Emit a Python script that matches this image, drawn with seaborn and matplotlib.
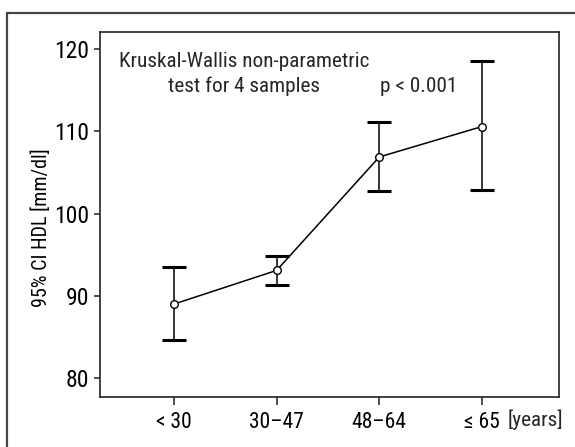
import numpy as np
import pandas as pd
import seaborn as sns
import matplotlib
matplotlib.use('Agg')
import matplotlib.pyplot as plt
from matplotlib import font_manager
from matplotlib.patches import Rectangle
import matplotlib.transforms as mtransforms

# dati
fasce_eta = ['< 30', '30–47', '48–64', '≤ 65']
hdl_medio = [89.0, 93.1, 106.9, 110.6]
ci_inferiore = [84.6, 91.3, 102.8, 102.9]
ci_superiore = [93.5, 94.8, 111.2, 118.6]

sns.set_theme(style='white')
# scelta di un font condensato tra quelli installati
installati = set(f.name for f in font_manager.fontManager.ttflist)
candidati = ['Liberation Sans Narrow', 'Arial Narrow', 'Roboto Condensed', 'Archivo Narrow',
             'PT Sans Narrow', 'IBM Plex Sans Condensed', 'Asap Condensed', 'Encode Sans Condensed']
famiglie = [c for c in candidati if c in installati][:1] + ['DejaVu Sans']
plt.rcParams['font.family'] = famiglie

df = pd.DataFrame({'eta': fasce_eta, 'hdl': hdl_medio})

fig = plt.figure(figsize=(5.75, 4.47), dpi=100)
ax = fig.add_axes([0.1739, 0.1119, 0.7983, 0.8165])

# cornice esterna (solo lati sinistro e superiore visibili)
fig.patches.append(Rectangle((7 / 575, -0.2), 1.2, 1 - 12.7 / 447 + 0.2,
                             transform=fig.transFigure, fill=False,
                             edgecolor='#444444', linewidth=1.6))

# linea con marcatori
sns.pointplot(data=df, x='eta', y='hdl', errorbar=None, color='black',
              markers='o', linestyles='-', ax=ax,
              linewidth=1.1, markersize=5.5,
              markerfacecolor='white', markeredgecolor='black', markeredgewidth=1.0)

# barre di errore (intervallo di confidenza 95%)
x = np.arange(len(fasce_eta))
err = [np.array(hdl_medio) - np.array(ci_inferiore), np.array(ci_superiore) - np.array(hdl_medio)]
ax.errorbar(x, hdl_medio, yerr=err, fmt='none', ecolor='black',
            elinewidth=1.1, capsize=8.5, capthick=2.2, zorder=1)
for linea in ax.lines[:1]:
    linea.set_zorder(3)

ax.set_xlim(-0.72, 3.75)
ax.set_ylim(77.7, 122.1)
ax.set_yticks([80, 90, 100, 110, 120])
ax.set_xlabel('')
ax.set_ylabel('95% CI HDL [mm/dl]', fontsize=14.5, color='black')
ax.yaxis.set_label_coords(-0.107, 0.465)

for s in ax.spines.values():
    s.set_color('#222222')
    s.set_linewidth(1.2)
ax.tick_params(axis='y', direction='out', length=4, width=1.1, color='#222222',
               labelsize=17, pad=4, left=True, labelcolor='black')
ax.tick_params(axis='x', direction='out', length=6, width=1.1, color='#222222',
               labelsize=15.5, pad=5, bottom=True, labelcolor='black')

ax.text(0.684, 118.5, 'Kruskal-Wallis non-parametric', ha='center', va='center', fontsize=15.3)
ax.text(0.684, 115.45, 'test for 4 samples', ha='center', va='center', fontsize=15.3)
ax.text(2.38, 115.45, 'p < 0.001', ha='center', va='center', fontsize=15.3)

trans = mtransforms.blended_transform_factory(ax.transData, fig.transFigure)
ax.text(3.52, 1 - 420 / 447, '[years]', ha='center', va='center', fontsize=15.3,
        transform=trans)

fig.savefig('out.png', dpi=100)
